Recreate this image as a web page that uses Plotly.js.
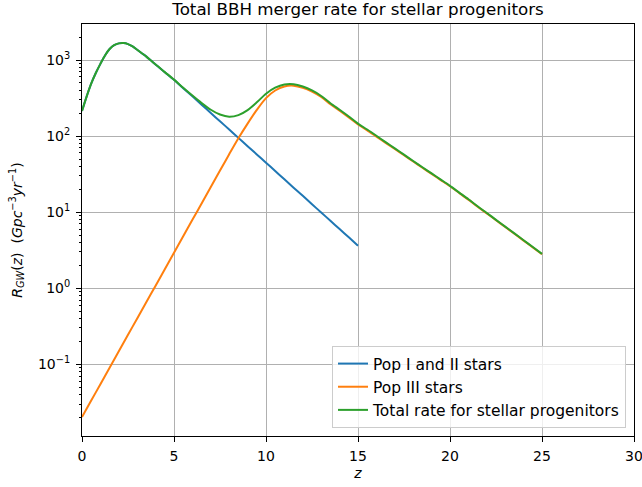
<!DOCTYPE html>
<html>
<head>
<meta charset="utf-8">
<script src="https://cdn.plot.ly/plotly-3.0.1.min.js"></script>
<style>
  html, body { margin: 0; padding: 0; background: #ffffff; }
  #chart { width: 642px; height: 487px; }
</style>
</head>
<body>
<div id="chart"></div>
<script>
// Redshift grids: finer near the low-z peak of the Pop I/II rate
const zPop12 = [0, 0.25, 0.5, 0.75, 1, 1.25, 1.5, 1.75, 2, 2.25, 2.5, 2.75, 3,
  3.25, 3.5, 3.75, 4, 4.5, 5, 5.5, 6, 6.5, 7, 7.5, 8, 8.5, 9, 9.5, 10, 10.5,
  11, 11.5, 12, 12.5, 13, 13.5, 14, 14.5, 15];
const zPop3 = [0, 0.5, 1, 1.5, 2, 2.5, 3, 3.5, 4, 4.5, 5, 5.5, 6, 6.5, 7, 7.5,
  8, 8.5, 9, 9.5, 10, 10.5, 11, 11.5, 12, 12.5, 13, 13.5, 14, 14.5, 15, 15.5,
  16, 16.5, 17, 17.5, 18, 18.5, 19, 19.5, 20, 20.5, 21, 21.5, 22, 22.5, 23,
  23.5, 24, 24.5, 25];
const zTotal = [0, 0.25, 0.5, 0.75, 1, 1.25, 1.5, 1.75, 2, 2.25, 2.5, 2.75, 3,
  3.25, 3.5, 3.75, 4, 4.5, 5, 5.5, 6, 6.5, 7, 7.5, 8, 8.5, 9, 9.5, 10, 10.5,
  11, 11.5, 12, 12.5, 13, 13.5, 14, 14.5, 15, 15.5, 16, 16.5, 17, 17.5, 18,
  18.5, 19, 19.5, 20, 20.5, 21, 21.5, 22, 22.5, 23, 23.5, 24, 24.5, 25];

// Merger rate density R_GW(z) in Gpc^-3 yr^-1
const ratePop12 = [214, 331, 490, 676, 891, 1148, 1396, 1567, 1656, 1671, 1622,
  1514, 1368, 1230, 1109, 984, 871, 692, 550, 427, 333, 259, 201, 157, 122,
  94.8, 73.8, 57.4, 44.7, 34.8, 27.0, 21.0, 16.4, 12.7, 9.9, 7.71, 6.0, 4.67,
  3.63];
const ratePop3 = [0.0203, 0.0333, 0.0548, 0.0902, 0.148, 0.244, 0.401, 0.659,
  1.08, 1.78, 2.93, 4.82, 7.93, 13.0, 21.4, 35.2, 57.9, 93.8, 146, 221, 316,
  398, 450, 460, 432, 385, 327, 263, 216, 176, 142, 119, 98.4, 81.5, 67.6, 56.0,
  46.3, 38.4, 31.8, 26.4, 21.9, 17.9, 14.6, 11.8, 9.64, 7.83, 6.38, 5.20, 4.23,
  3.44, 2.80];
const rateTotal = [214, 331, 490, 676, 891, 1148, 1396, 1567, 1656, 1671, 1622,
  1514, 1368, 1230, 1110, 985, 872, 694, 553, 432, 341, 272, 222, 192, 180, 189,
  220, 278, 361, 433, 477, 481, 448, 398, 337, 271, 222, 181, 146, 122, 101,
  83.2, 68.9, 57.0, 47.1, 39.0, 32.3, 26.8, 22.2, 18.1, 14.8, 11.95, 9.76, 7.92,
  6.45, 5.26, 4.28, 3.48, 2.83];

const seriesNames = ['Pop I and II stars', 'Pop III stars', 'Total rate for stellar progenitors'];
const seriesColors = ['#1f77b4', '#ff7f0e', '#2ca02c'];

// Decade tick labels on the log axis
const yTickVals = [0.1, 1, 10, 100, 1000];
const yTickText = ['10<sup>\u22121</sup>', '10<sup>0</sup>', '10<sup>1</sup>',
  '10<sup>2</sup>', '10<sup>3</sup>'];
const xTickVals = [0, 5, 10, 15, 20, 25, 30];

const FONT = 'DejaVu Sans, Verdana, sans-serif';

// Minor ticks at 2..9 x 10^k across the visible decades
const yMinor = [];
for (let k = -2; k <= 3; k++) {
  for (let m = 2; m <= 9; m++) yMinor.push(m * Math.pow(10, k));
}

function lineTrace(x, y, i) {
  return {
    x: x, y: y, type: 'scatter', mode: 'lines', name: seriesNames[i],
    line: { color: seriesColors[i], width: 2, shape: 'spline', smoothing: 0.8 },
    hoverinfo: 'skip'
  };
}

const traces = [
  lineTrace(zPop12, ratePop12, 0),
  lineTrace(zPop3, ratePop3, 1),
  lineTrace(zTotal, rateTotal, 2)
];

const axisCommon = {
  showline: true, linecolor: '#000000', linewidth: 1, mirror: true,
  ticks: 'outside', ticklen: 5, tickwidth: 1, tickcolor: '#000000',
  showgrid: true, gridcolor: '#b0b0b0', gridwidth: 1,
  zeroline: false, ticklabeloverflow: 'allow',
  tickfont: { family: FONT, size: 14, color: '#000000' }
};

const layout = {
  width: 642, height: 487,
  paper_bgcolor: '#ffffff', plot_bgcolor: '#ffffff',
  margin: { l: 82, r: 8, t: 24, b: 51, pad: 0 },
  font: { family: FONT, size: 14, color: '#000000' },
  showlegend: true,
  title: {
    text: 'Total BBH merger rate for stellar progenitors',
    font: { family: FONT, size: 16.7, color: '#000000' },
    x: 0.5, xref: 'paper', xanchor: 'center',
    y: 1, yref: 'paper', yanchor: 'bottom', pad: { b: 9 }
  },
  xaxis: Object.assign({}, axisCommon, {
    range: [-0.0001, 30.0001], tickmode: 'array', tickvals: xTickVals,
    ticklabelstandoff: 2,
    title: { text: '<i>z</i>', font: { family: FONT, size: 14 }, standoff: 5 }
  }),
  yaxis: Object.assign({}, axisCommon, {
    type: 'log', range: [-1.943, 3.474],
    tickmode: 'array', tickvals: yTickVals, ticktext: yTickText,
    ticklabelstandoff: 3,
    minor: { tickmode: 'array', tickvals: yMinor, ticks: 'outside', ticklen: 2.5,
             tickwidth: 1, tickcolor: '#000000', showgrid: false },
    title: {
      text: '<i>R</i><sub><i>GW</i></sub>(<i>z</i>)\u00a0\u00a0(<i>Gpc</i><sup>\u22123</sup><i>yr</i><sup>\u22121</sup>)',
      font: { family: FONT, size: 14 }, standoff: 12
    }
  }),
  legend: {
    x: 0.9855, xanchor: 'right', y: 0.0194, yanchor: 'bottom',
    bgcolor: 'rgba(255,255,255,0.8)', bordercolor: '#cccccc', borderwidth: 1,
    font: { family: FONT, size: 15.5, color: '#000000' },
    itemwidth: 30, tracegroupgap: 0
  }
};

Plotly.newPlot('chart', traces, layout, { staticPlot: true, displayModeBar: false });
</script>
</body>
</html>
